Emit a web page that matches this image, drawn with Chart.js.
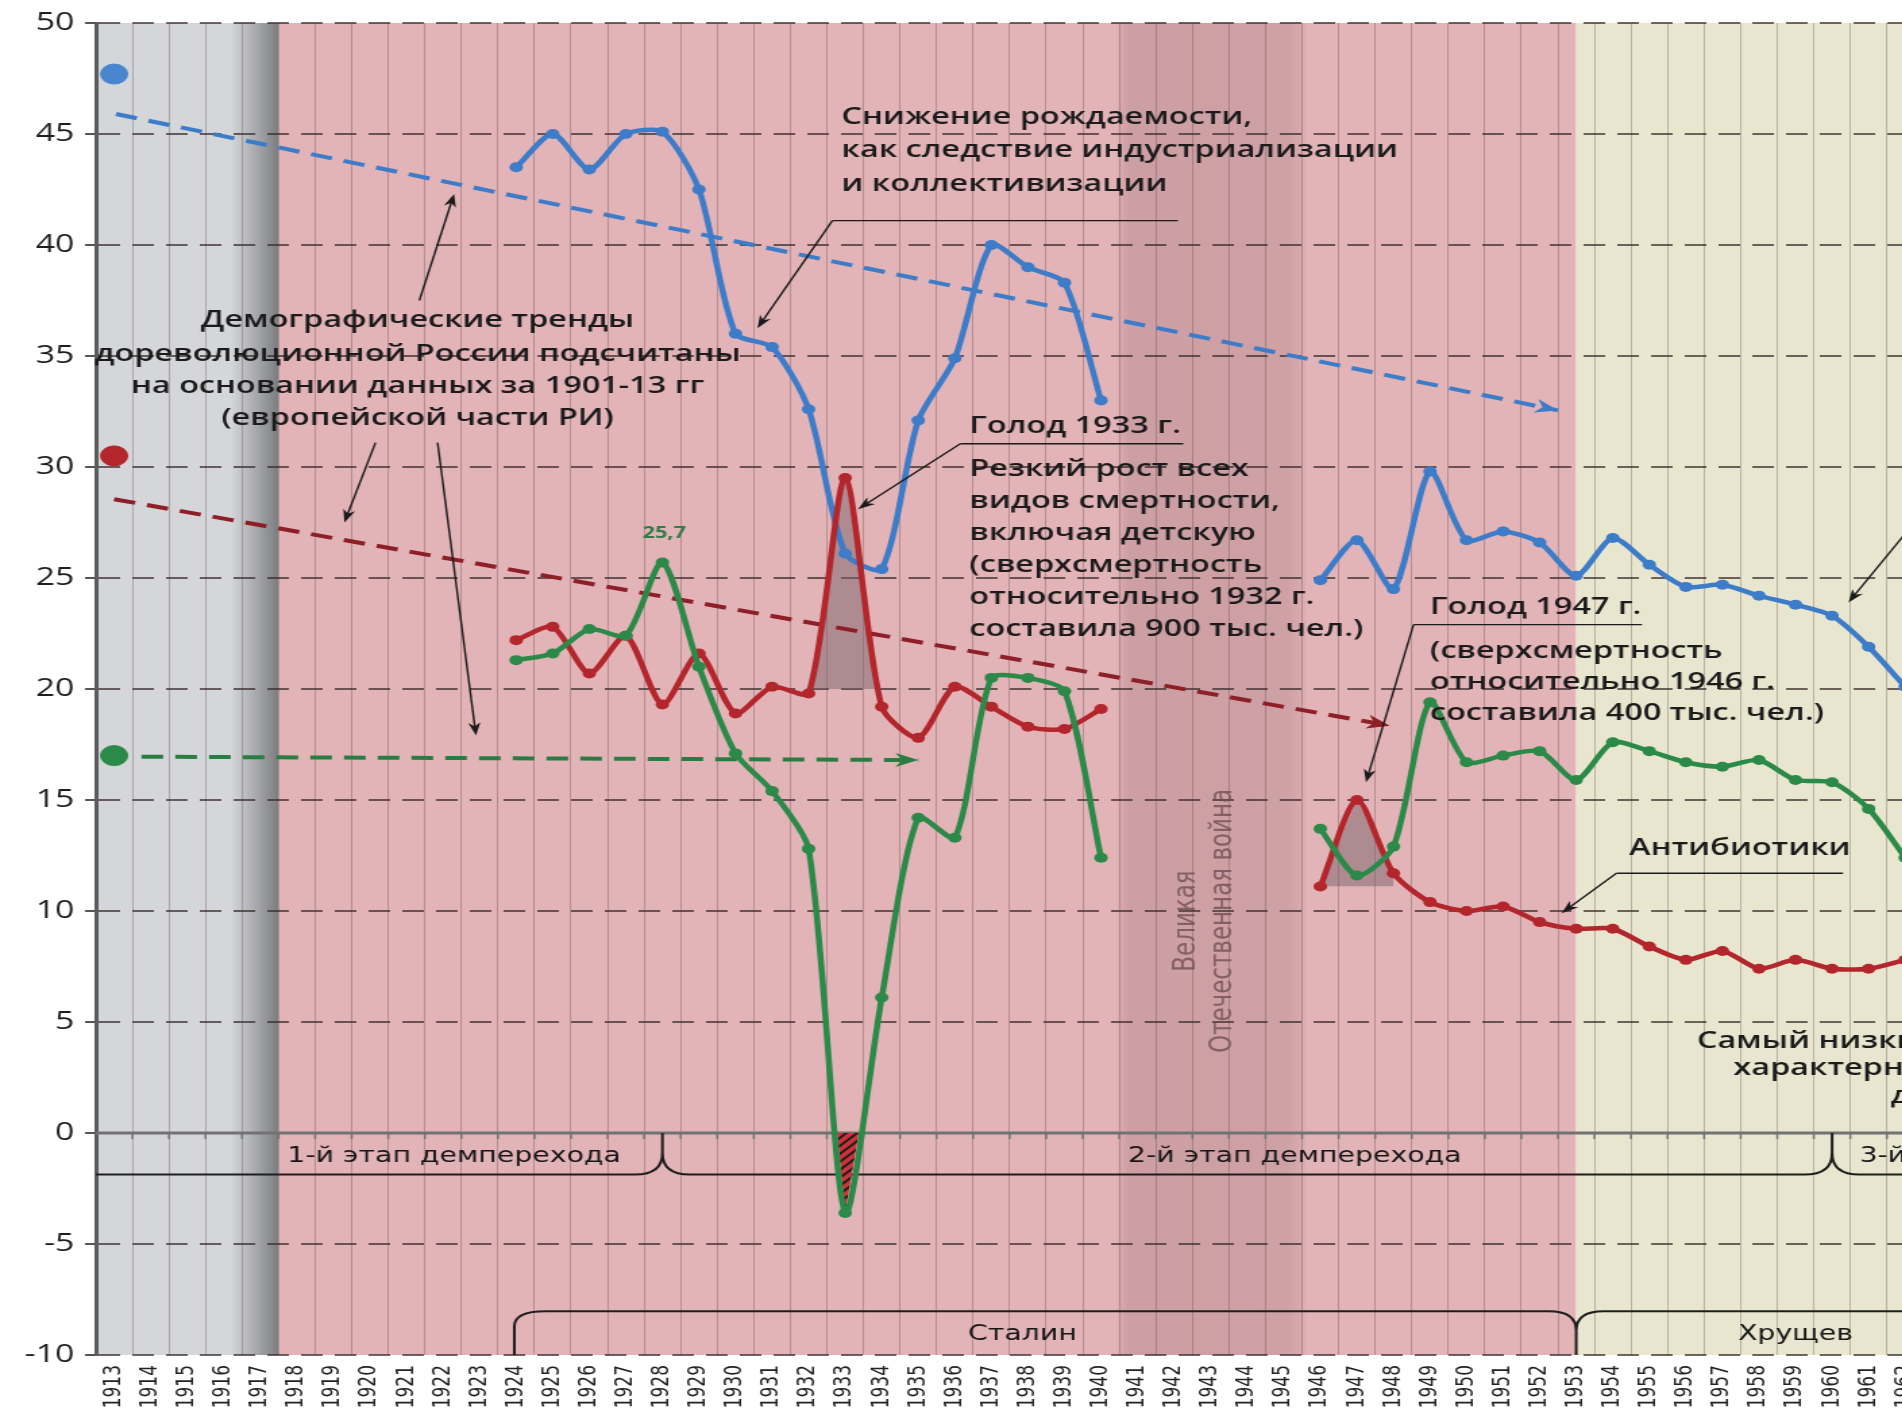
<!DOCTYPE html>
<html lang="ru">
<head>
<meta charset="utf-8">
<title>Рождаемость, смертность и естественный прирост</title>
<script src="https://cdn.jsdelivr.net/npm/chart.js@4.4.1/dist/chart.umd.min.js"></script>
<style>
  html, body { margin: 0; padding: 0; background: #fff; overflow: hidden; }
  #wrap { width: 1902px; height: 1418px; overflow: hidden; position: relative; }
</style>
</head>
<body>
<div id="wrap">
  <!-- the source picture is stretched sideways, so the canvas is drawn narrow and widened by css -->
  <canvas id="chart" width="1523" height="1418" style="width:2056px;height:1418px"></canvas>
</div>
<script>
const years = ['1913', '1914', '1915', '1916', '1917', '1918', '1919', '1920', '1921', '1922',
  '1923', '1924', '1925', '1926', '1927', '1928', '1929', '1930', '1931', '1932', '1933', '1934',
  '1935', '1936', '1937', '1938', '1939', '1940', '1941', '1942', '1943', '1944', '1945', '1946',
  '1947', '1948', '1949', '1950', '1951', '1952', '1953', '1954', '1955', '1956', '1957', '1958',
  '1959', '1960', '1961', '1962', '1963', '1964', '1965'];

// per 1000 people, 1924-1940 and 1946-1962
const birthTo1940 = [43.5, 45.0, 43.4, 45.0, 45.1, 42.5, 36.0, 35.4, 32.6, 26.1, 25.4, 32.1, 34.9, 40.0, 39.0, 38.3, 33.0];
const birthFrom1946 = [24.9, 26.7, 24.5, 29.8, 26.7, 27.1, 26.6, 25.1, 26.8, 25.6, 24.6, 24.7, 24.2, 23.8, 23.3, 21.9, 20.1];
const deathTo1940 = [22.2, 22.8, 20.7, 22.4, 19.3, 21.6, 18.9, 20.1, 19.8, 29.5, 19.2, 17.8, 20.1, 19.2, 18.3, 18.2, 19.1];
const deathFrom1946 = [11.1, 15.0, 11.7, 10.4, 10.0, 10.2, 9.5, 9.2, 9.2, 8.4, 7.8, 8.2, 7.4, 7.8, 7.4, 7.4, 7.8];
const growthTo1940 = [21.3, 21.6, 22.7, 22.4, 25.7, 21.0, 17.1, 15.4, 12.8, -3.6, 6.1, 14.2, 13.3, 20.5, 20.5, 19.9, 12.4];
const growthFrom1946 = [13.7, 11.6, 12.9, 19.4, 16.7, 17.0, 17.2, 15.9, 17.6, 17.2, 16.7, 16.5, 16.8, 15.9, 15.8, 14.6, 12.4];

// pre-revolution levels (birth, death, growth) and their trends [year, value]
const level1913 = [47.7, 30.5, 17.0];
const trendBirth = [[1913.05, 45.9], [1952.5, 32.55]];
const trendDeath = [[1913.0, 28.55], [1947.9, 18.35]];
const trendGrowth = [[1913.75, 16.95], [1935.0, 16.8]];

const BLUE = '#3d7cc9', RED = '#b3262b', GREEN = '#2b8a48';

function series(early, late) {
  return years.map(y => {
    const n = +y;
    if (n >= 1924 && n < 1924 + early.length) return early[n - 1924];
    if (n >= 1946 && n < 1946 + late.length) return late[n - 1946];
    return null;
  });
}
function span(arr, from, to) {
  return arr.map((v, i) => (+years[i] >= from && +years[i] <= to) ? v : null);
}

const birth = series(birthTo1940, birthFrom1946);
const death = series(deathTo1940, deathFrom1946);
const growth = series(growthTo1940, growthFrom1946);

function hatch() {
  const c = document.createElement('canvas');
  c.width = 8; c.height = 8;
  const g = c.getContext('2d');
  g.fillStyle = '#c9353b';
  g.fillRect(0, 0, 8, 8);
  g.strokeStyle = '#2a1a1a';
  g.lineWidth = 2;
  g.beginPath();
  g.moveTo(0, 8); g.lineTo(8, 0);
  g.moveTo(-2, 2); g.lineTo(2, -2);
  g.moveTo(6, 10); g.lineTo(10, 6);
  g.stroke();
  return g.createPattern(c, 'repeat');
}

function line(label, data, color, order) {
  return {
    label, data, order,
    borderColor: color, backgroundColor: color,
    borderWidth: 4.5, pointRadius: 5, pointHoverRadius: 5,
    pointBackgroundColor: color, pointBorderWidth: 0,
    tension: 0.25, fill: false, spanGaps: false
  };
}
function trend(label, pts, color) {
  return {
    label, xAxisID: 'xl', order: 3,
    data: pts.map(([x, y]) => ({x, y})),
    borderColor: color, borderWidth: 4, borderDash: [16, 9],
    pointRadius: 0, fill: false, tension: 0
  };
}
function marker(label, value, color) {
  return {
    label, xAxisID: 'xl', order: 0, showLine: false,
    data: [{x: 1913, y: value}],
    pointRadius: 10, pointHoverRadius: 10,
    backgroundColor: color, borderColor: color
  };
}

// text, arrows and brackets, placed in [year, value] terms
const notes = [
  {x: 1932.9, align: 'left', rows: [['Снижение рождаемости,', 45.75], ['как следствие индустриализации', 44.25], ['и коллективизации', 42.75]]},
  {x: 1921.3, align: 'center', rows: [['Демографические тренды', 36.6], ['дореволюционной России подсчитаны', 35.1],
    ['на основании данных за 1901-13 гг', 33.65], ['(европейской части РИ)', 32.2]]},
  {x: 1936.4, align: 'left', rows: [['Голод 1933 г.', 31.85], ['Резкий рост всех', 29.9], ['видов смертности,', 28.46],
    ['включая детскую', 27.02], ['(сверхсмертность', 25.58], ['относительно 1932 г.', 24.14], ['составила 900 тыс. чел.)', 22.7]]},
  {x: 1949.0, align: 'left', rows: [['Голод 1947 г.', 23.7], ['(сверхсмертность', 21.7], ['относительно 1946 г.', 20.3], ['составила 400 тыс. чел.)', 18.9]]},
  {x: 1954.45, align: 'left', rows: [['Антибиотики', 12.85]]},
  {x: 1956.3, align: 'left', rows: [['Самый низкий', 4.15]]},
  {x: 1957.3, align: 'left', rows: [['характерный', 2.9]]},
  {x: 1961.6, align: 'left', rows: [['для', 1.65]]}
];
const underlines = [[1932.65, 1942.1, 41.1], [1936.15, 1942.25, 31.05], [1948.55, 1954.8, 22.9], [1954.1, 1960.3, 11.7]];
const pointers = [[1932.65, 41.1, 1930.6, 36.25], [1921.35, 37.5, 1922.3, 42.3], [1920.15, 31.1, 1919.3, 27.5],
  [1921.85, 31.1, 1922.9, 17.9], [1936.15, 31.05, 1933.35, 28.1], [1948.55, 22.9, 1947.25, 15.8],
  [1954.1, 11.7, 1952.6, 9.9], [1962.3, 27.6, 1960.45, 23.9]];

function arrowHead(ctx, x1, y1, x2, y2, len, half) {
  const a = Math.atan2(y2 - y1, x2 - x1);
  const bx = x2 - len * Math.cos(a), by = y2 - len * Math.sin(a);
  ctx.beginPath();
  ctx.moveTo(x2, y2);
  ctx.lineTo(bx + half * Math.sin(a), by - half * Math.cos(a));
  ctx.lineTo(x2 - len * 0.7 * Math.cos(a), y2 - len * 0.7 * Math.sin(a));
  ctx.lineTo(bx - half * Math.sin(a), by + half * Math.cos(a));
  ctx.closePath();
  ctx.fill();
}

const overlay = {
  id: 'overlay',
  beforeDraw(chart) {
    const {ctx, chartArea: {left, right, top, bottom}} = chart;
    const X = v => chart.scales.xl.getPixelForValue(v);
    const h = bottom - top;
    ctx.save();
    ctx.fillStyle = '#d4d6d9';
    ctx.fillRect(left, top, X(1917.5) - left, h);
    let g = ctx.createLinearGradient(X(1916.2), 0, X(1917.5), 0);
    g.addColorStop(0, 'rgba(110,112,116,0)');
    g.addColorStop(1, 'rgba(100,102,106,0.8)');
    ctx.fillStyle = g;
    ctx.fillRect(X(1916.2), top, X(1917.5) - X(1916.2), h);
    ctx.fillStyle = '#e2b3b7';
    ctx.fillRect(X(1917.5), top, X(1953) - X(1917.5), h);
    ctx.fillStyle = '#e9e6d0';
    ctx.fillRect(X(1953), top, right - X(1953), h);
    g = ctx.createLinearGradient(X(1940.45), 0, X(1945.6), 0);
    g.addColorStop(0, 'rgba(120,80,86,0.05)');
    g.addColorStop(0.06, 'rgba(120,80,86,0.2)');
    g.addColorStop(0.9, 'rgba(120,80,86,0.18)');
    g.addColorStop(1, 'rgba(120,80,86,0.05)');
    ctx.fillStyle = g;
    ctx.fillRect(X(1940.45), top, X(1945.6) - X(1940.45), h);
    ctx.restore();
  },
  beforeDatasetsDraw(chart) {
    const {ctx, chartArea: {left, right}} = chart;
    const X = v => chart.scales.xl.getPixelForValue(v);
    const Y = v => chart.scales.y.getPixelForValue(v);
    ctx.save();
    // zero line with small ticks
    const y0 = Y(0);
    ctx.strokeStyle = '#727272';
    ctx.lineWidth = 3;
    ctx.beginPath(); ctx.moveTo(left, y0); ctx.lineTo(right, y0); ctx.stroke();
    ctx.lineWidth = 1.5;
    ctx.beginPath();
    for (let i = 1; i < years.length; i++) {
      ctx.moveTo(X(1912.5 + i), y0); ctx.lineTo(X(1912.5 + i), y0 + 6);
    }
    ctx.stroke();

    // war label
    ctx.fillStyle = 'rgba(112,80,86,0.8)';
    ctx.font = '23px "DejaVu Sans"';
    ctx.textAlign = 'center';
    ctx.textBaseline = 'middle';
    [['Великая', 1942.35], ['Отечественная война', 1943.35]].forEach(([t, x]) => {
      ctx.save(); ctx.translate(X(x), Y(9.55)); ctx.rotate(-Math.PI / 2); ctx.fillText(t, 0, 0); ctx.restore();
    });

    // brackets
    ctx.strokeStyle = '#1e1e1e';
    ctx.lineWidth = 2;
    const yb = Y(-1.87), yc = Y(-0.9);
    ctx.beginPath();
    ctx.moveTo(left, yb);
    [1928, 1960].forEach(c => {
      ctx.lineTo(X(c - 0.75), yb);
      ctx.quadraticCurveTo(X(c), yb, X(c), yc);
      ctx.lineTo(X(c), y0);
      ctx.moveTo(X(c), yc);
      ctx.quadraticCurveTo(X(c), yb, X(c + 0.75), yb);
    });
    ctx.lineTo(right, yb);
    const yt = Y(-8.03), yBot = Y(-10), yd = Y(-8.9);
    ctx.moveTo(X(1923.95), yBot);
    ctx.lineTo(X(1923.95), Y(-8.7));
    ctx.quadraticCurveTo(X(1923.95), yt, X(1924.8), yt);
    ctx.lineTo(X(1952.25), yt);
    ctx.quadraticCurveTo(X(1953), yt, X(1953), yd);
    ctx.lineTo(X(1953), yBot);
    ctx.moveTo(X(1953), yd);
    ctx.quadraticCurveTo(X(1953), yt, X(1953.75), yt);
    ctx.lineTo(right, yt);
    ctx.stroke();

    ctx.fillStyle = '#161616';
    ctx.font = '21px "DejaVu Sans"';
    ctx.textBaseline = 'middle';
    ctx.textAlign = 'center';
    ctx.fillText('1-й этап демперехода', X(1922.3), Y(-1.05));
    ctx.fillText('2-й этап демперехода', X(1945.3), Y(-1.05));
    ctx.fillText('Сталин', X(1937.85), Y(-9.1));
    ctx.fillText('Хрущев', X(1959.0), Y(-9.1));
    ctx.textAlign = 'left';
    ctx.fillText('3-й этап демперехода', X(1960.75), Y(-1.05));
    ctx.restore();
  },
  afterDatasetsDraw(chart) {
    const {ctx} = chart;
    const X = v => chart.scales.xl.getPixelForValue(v);
    const Y = v => chart.scales.y.getPixelForValue(v);
    ctx.save();
    // arrow heads of the trends
    [[trendBirth, BLUE], [trendDeath, '#8e1f27'], [trendGrowth, '#2a7d40']].forEach(([t, c]) => {
      ctx.fillStyle = c;
      arrowHead(ctx, X(t[0][0]), Y(t[0][1]), X(t[1][0]), Y(t[1][1]), 17, 7);
    });

    // value label over the 1928 peak
    ctx.fillStyle = '#2e7d46';
    ctx.font = 'bold 16px "Open Sans"';
    ctx.textAlign = 'center';
    ctx.textBaseline = 'middle';
    ctx.fillText(String(growthTo1940[4]).replace('.', ','), X(1928.05), Y(27.0));

    ctx.fillStyle = '#1b1b1b';
    ctx.strokeStyle = '#1b1b1b';
    ctx.font = '600 24px "Open Sans"';
    notes.forEach(n => {
      ctx.textAlign = n.align;
      n.rows.forEach(([t, v]) => ctx.fillText(t, X(n.x), Y(v)));
    });
    ctx.lineWidth = 1.4;
    ctx.beginPath();
    underlines.forEach(([a, b, v]) => { ctx.moveTo(X(a), Y(v)); ctx.lineTo(X(b), Y(v)); });
    ctx.stroke();
    pointers.forEach(([x1, y1, x2, y2]) => {
      const a = Math.atan2(Y(y2) - Y(y1), X(x2) - X(x1));
      ctx.beginPath();
      ctx.moveTo(X(x1), Y(y1));
      ctx.lineTo(X(x2) - 8 * Math.cos(a), Y(y2) - 8 * Math.sin(a));
      ctx.stroke();
      arrowHead(ctx, X(x1), Y(y1), X(x2), Y(y2), 13, 4.5);
    });
    ctx.restore();
  }
};

Chart.defaults.font.family = '"Open Sans", sans-serif';

new Chart(document.getElementById('chart'), {
  type: 'line',
  data: {
    labels: years,
    datasets: [
      marker('1913 рождаемость', level1913[0], '#4a86cf'),
      marker('1913 смертность', level1913[1], '#b3262b'),
      marker('1913 прирост', level1913[2], '#2b8a48'),
      line('Естественный прирост', growth, GREEN, 0),
      line('Смертность', death, RED, 1),
      line('Рождаемость', birth, BLUE, 2),
      trend('Тренд рождаемости', trendBirth, BLUE),
      trend('Тренд смертности', trendDeath, '#8e1f27'),
      trend('Тренд прироста', trendGrowth, '#2a7d40'),
      {label: 'Сверхсмертность 1933', data: span(death, 1932, 1934), order: 6, tension: 0,
        borderWidth: 0, pointRadius: 0,
        fill: {target: {value: 20}, above: 'rgba(120,100,106,0.5)', below: 'rgba(0,0,0,0)'}},
      {label: 'Сверхсмертность 1947', data: span(death, 1946, 1948), order: 6, tension: 0,
        borderWidth: 0, pointRadius: 0,
        fill: {target: {value: deathFrom1946[0]}, above: 'rgba(120,100,106,0.5)', below: 'rgba(0,0,0,0)'}},
      {label: 'Убыль 1933', data: span(growth, 1932, 1934), order: 6, tension: 0,
        borderWidth: 0, pointRadius: 0,
        fill: {target: {value: 0}, above: 'rgba(0,0,0,0)', below: hatch()}}
    ]
  },
  options: {
    responsive: false,
    animation: false,
    layout: {padding: {top: 18, right: 4, left: 0, bottom: 0}},
    plugins: {legend: {display: false}, tooltip: {enabled: false}},
    scales: {
      x: {
        type: 'category',
        offset: true,
        afterFit: s => { s.height = 63; },
        ticks: {autoSkip: false, minRotation: 90, maxRotation: 90, padding: 10,
          font: {family: '"DejaVu Sans"', size: 17}, color: '#222'},
        grid: {offset: true, color: 'rgba(80,55,55,0.3)', lineWidth: 1, drawTicks: false},
        border: {display: false}
      },
      xl: {type: 'linear', display: false, min: 1912.5, max: 1912.5 + years.length},
      y: {
        min: -10, max: 50,
        afterFit: s => { s.width = 71; },
        ticks: {stepSize: 5, padding: 8, font: {size: 25}, color: '#1e1e1e'},
        grid: {
          color: c => (c.tick && c.tick.value === 0) ? 'rgba(0,0,0,0)' : 'rgba(60,45,45,0.72)',
          lineWidth: 2, tickColor: '#555', tickLength: 8, tickWidth: 2
        },
        border: {display: true, color: '#5c5c5c', width: 3, dash: [16, 9]}
      }
    }
  },
  plugins: [overlay]
});
</script>
</body>
</html>
